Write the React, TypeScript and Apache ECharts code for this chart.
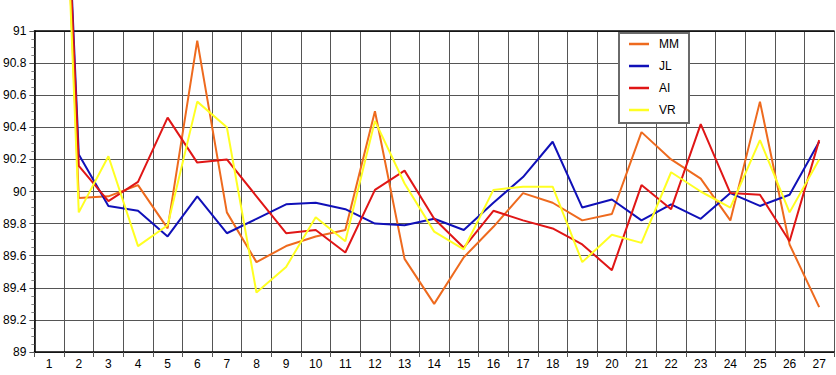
import React, { useEffect, useRef } from "react";
import * as echarts from "echarts";

const categories = [
  "1", "2", "3", "4", "5", "6", "7", "8", "9", "10", "11", "12", "13", "14",
  "15", "16", "17", "18", "19", "20", "21", "22", "23", "24", "25", "26", "27",
];

const seriesNames = ["MM", "JL", "AI", "VR"];

const mmValues = [
  94.5, 89.96, 89.97, 90.04, 89.77, 90.94, 89.87, 89.56, 89.66, 89.72, 89.76,
  90.5, 89.58, 89.3, 89.59, 89.78, 89.99, 89.93, 89.82, 89.86, 90.37, 90.2,
  90.08, 89.82, 90.56, 89.67, 89.28,
];

const jlValues = [
  94.5, 90.23, 89.91, 89.88, 89.72, 89.97, 89.74, 89.83, 89.92, 89.93, 89.89,
  89.8, 89.79, 89.83, 89.76, 89.93, 90.09, 90.31, 89.9, 89.95, 89.82, 89.92,
  89.83, 89.99, 89.91, 89.98, 90.31,
];

const aiValues = [
  94.5, 90.16, 89.94, 90.06, 90.46, 90.18, 90.2, 89.97, 89.74, 89.76, 89.62,
  90.01, 90.13, 89.83, 89.65, 89.88, 89.82, 89.77, 89.67, 89.51, 90.04, 89.89,
  90.42, 89.99, 89.98, 89.69, 90.32,
];

const vrValues = [
  94.5, 89.87, 90.22, 89.66, 89.79, 90.56, 90.4, 89.37, 89.53, 89.84, 89.69,
  90.44, 90.05, 89.75, 89.64, 90.01, 90.03, 90.03, 89.56, 89.73, 89.68, 90.12,
  90.0, 89.9, 90.32, 89.87, 90.2,
];

const colors = ["#ee6a1e", "#1010b8", "#e01616", "#ffff22"];

export default function App() {
  const ref = useRef<HTMLDivElement>(null);

  useEffect(() => {
    if (!ref.current) return;
    const chart = echarts.init(ref.current, null, { renderer: "svg" });
    const allValues = [mmValues, jlValues, aiValues, vrValues];
    const font = "'Liberation Sans', Arial, Helvetica, sans-serif";
    chart.setOption({
      animation: false,
      backgroundColor: "#ffffff",
      textStyle: { fontFamily: font },
      grid: { left: 33, right: 2, top: 31, bottom: 23, containLabel: false },
      legend: {
        orient: "vertical",
        left: 619,
        top: 33,
        data: seriesNames,
        icon: "rect",
        itemWidth: 20,
        itemHeight: 2.5,
        itemGap: 8,
        padding: [4, 10, 6, 10],
        backgroundColor: "#ffffff",
        borderColor: "#6a6a6a",
        borderWidth: 2,
        textStyle: {
          fontSize: 12,
          color: "#000",
          fontFamily: font,
          lineHeight: 14,
          padding: [0, 0, 0, 5],
        },
      },
      xAxis: [
        {
          type: "category",
          data: categories,
          boundaryGap: true,
          axisLine: { show: true, lineStyle: { color: "#000", width: 1.5 } },
          axisTick: {
            show: true,
            alignWithLabel: false,
            length: 5,
            lineStyle: { color: "#555" },
          },
          axisLabel: { fontSize: 12, color: "#000", margin: 6, fontFamily: font },
          splitLine: { show: true, lineStyle: { color: "#555", width: 1 } },
        },
        {
          type: "category",
          data: categories,
          position: "top",
          boundaryGap: true,
          axisLine: { show: true, lineStyle: { color: "#000", width: 1.5 } },
          axisTick: { show: false },
          axisLabel: { show: false },
          splitLine: { show: false },
        },
      ],
      yAxis: {
        type: "value",
        min: 89,
        max: 91,
        interval: 0.2,
        axisLine: { show: true, lineStyle: { color: "#000", width: 1.5 } },
        axisTick: { show: true, length: 5, lineStyle: { color: "#555" } },
        minorTick: { show: true, splitNumber: 4, length: 3, lineStyle: { color: "#888" } },
        axisLabel: {
          fontSize: 12,
          color: "#000",
          margin: 8,
          fontFamily: font,
          formatter: (v: number) => String(Math.round(v * 10) / 10),
        },
        splitLine: { show: true, lineStyle: { color: "#555", width: 1 } },
      },
      series: seriesNames.map((name, i) => ({
        name,
        type: "line",
        data: allValues[i],
        symbol: "none",
        clip: false,
        color: colors[i],
        lineStyle: { width: 2, color: colors[i] },
        xAxisIndex: 0,
      })),
    });
    return () => chart.dispose();
  }, []);

  return <div ref={ref} style={{ width: 836, height: 375, position: "absolute", left: 0, top: 0 }} />;
}
